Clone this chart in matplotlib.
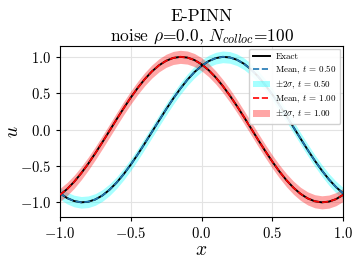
import matplotlib
matplotlib.use('Agg')
import matplotlib.pyplot as plt
import numpy as np

plt.rcParams['font.family'] = 'serif'
plt.rcParams['font.serif'] = ['cmr10', 'DejaVu Serif']
plt.rcParams['mathtext.fontset'] = 'cm'
plt.rcParams['axes.formatter.use_mathtext'] = True
plt.rcParams['axes.unicode_minus'] = True

# x grid (read every 0.05)
x = [-1.00, -0.95, -0.90, -0.85, -0.80, -0.75, -0.70, -0.65, -0.60, -0.55,
     -0.50, -0.45, -0.40, -0.35, -0.30, -0.25, -0.20, -0.15, -0.10, -0.05,
     0.00, 0.05, 0.10, 0.15, 0.20, 0.25, 0.30, 0.35, 0.40, 0.45,
     0.50, 0.55, 0.60, 0.65, 0.70, 0.75, 0.80, 0.85, 0.90, 0.95, 1.00]

# t = 0.50
u_t05 = [-0.876, -0.941, -0.982, -1.000, -0.992, -0.960, -0.905, -0.827, -0.729, -0.613,
         -0.482, -0.339, -0.187, -0.031, 0.125, 0.279, 0.426, 0.562, 0.685, 0.790,
         0.876, 0.941, 0.982, 1.000, 0.992, 0.960, 0.905, 0.827, 0.729, 0.613,
         0.482, 0.339, 0.187, 0.031, -0.125, -0.279, -0.426, -0.562, -0.685, -0.790, -0.876]
# t = 1.00
u_t10 = [-0.898, -0.818, -0.718, -0.600, -0.468, -0.324, -0.172, -0.016, 0.141, 0.294,
         0.440, 0.575, 0.696, 0.800, 0.884, 0.946, 0.985, 1.000, 0.990, 0.956,
         0.898, 0.818, 0.718, 0.600, 0.468, 0.324, 0.172, 0.016, -0.141, -0.294,
         -0.440, -0.575, -0.696, -0.800, -0.884, -0.946, -0.985, -1.000, -0.990, -0.956, -0.898]

sigma_t05 = 0.04
sigma_t10 = 0.045

fig = plt.figure(figsize=(3.57, 2.61), dpi=100)
ax = fig.add_axes([0.168, 0.169, 0.793, 0.655])

xs = np.array(x)
for u, sig, t, c_mean, c_band in [(u_t05, sigma_t05, 0.50, '#1f77b4', 'cyan'),
                                  (u_t10, sigma_t10, 1.00, 'red', 'red')]:
    u = np.array(u)
    if t == 0.50:
        ax.plot(xs, u, color='black', lw=1.4, label='Exact', zorder=3)
    else:
        ax.plot(xs, u, color='black', lw=1.4, zorder=3)
    ax.plot(xs, u, '--', color=c_mean, lw=1.2, label=r'Mean, $t$ = %.2f' % t, zorder=4)
    ax.fill_between(xs, u - 2 * sig, u + 2 * sig, color=c_band, alpha=0.35,
                    lw=0, label=r'$\pm 2\sigma$, $t$ = %.2f' % t, zorder=2)

ax.set_xlim(-1, 1)
ax.set_ylim(-1.2, 1.15)
ax.set_xticks([-1.0, -0.5, 0.0, 0.5, 1.0])
ax.set_yticks([-1.0, -0.5, 0.0, 0.5, 1.0])
ax.tick_params(labelsize=10.5, length=3)
ax.grid(True, color='#e3e3e3', lw=0.8)
ax.set_xlabel(r'$x$', fontsize=14, labelpad=0)
ax.set_ylabel(r'$u$', fontsize=14)
ax.yaxis.set_label_coords(-0.135, 0.5)
ax.set_title('E-PINN\nnoise $\\rho$=0.0, $N_{colloc}$=100', fontsize=12.5, pad=4)
ax.legend(loc='upper right', fontsize=6.5, handlelength=1.9, framealpha=0.9,
          borderaxespad=0.3, labelspacing=0.3, borderpad=0.4, handletextpad=0.6)

fig.savefig('out.png', dpi=100)
